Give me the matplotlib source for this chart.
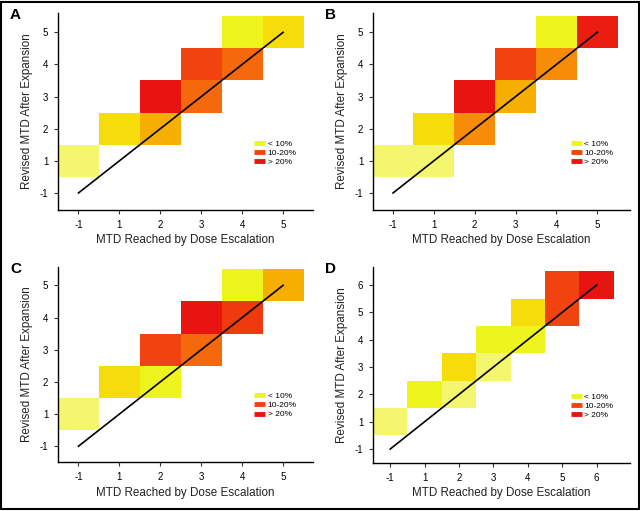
import numpy as np
import matplotlib
matplotlib.use("Agg")
import matplotlib.pyplot as plt
from matplotlib.colors import LinearSegmentedColormap, Normalize
from matplotlib.lines import Line2D
from matplotlib.patches import Rectangle

# ---------------- data ----------------
cats_5 = ["-1", "1", "2", "3", "4", "5"]
cats_6 = ["-1", "1", "2", "3", "4", "5", "6"]

# cells: (dose escalation category, revised category, value in % scale)
a_x = ["-1", "1", "2", "2", "3", "3", "4", "4", "5"]
a_y = ["1", "2", "2", "3", "3", "4", "4", "5", "5"]
a_v = [2, 8, 11, 25, 17, 20, 17, 5, 8]

b_x = ["-1", "1", "1", "2", "2", "3", "3", "4", "4", "5"]
b_y = ["1", "1", "2", "2", "3", "3", "4", "4", "5", "5"]
b_v = [2, 2, 8, 14, 25, 11, 20, 14, 5, 24]

c_x = ["-1", "1", "2", "2", "3", "3", "4", "4", "5"]
c_y = ["1", "2", "2", "3", "3", "4", "4", "5", "5"]
c_v = [2, 8, 5, 20, 17, 25, 21, 5, 11]

d_x = ["-1", "1", "2", "2", "3", "3", "4", "4", "5", "5", "6"]
d_y = ["1", "2", "2", "3", "3", "4", "4", "5", "5", "6", "6"]
d_v = [2, 5, 2, 8, 2, 5, 5, 8, 20, 20, 25]

legend_labels = ["< 10%", "10-20%", "> 20%"]
legend_values = [5, 20, 25]

xlabel = "MTD Reached by Dose Escalation"
ylabel = "Revised MTD After Expansion"

# ---------------- style ----------------
cmap = LinearSegmentedColormap.from_list(
    "risk",
    [(0.0, "#F4F66E"), (0.08, "#F4F66E"), (0.2, "#EEF51C"), (0.32, "#F6DC0A"),
     (0.44, "#F6AF00"), (0.56, "#F68C08"), (0.68, "#F5690C"), (0.8, "#F1430F"),
     (1.0, "#E81410")])
norm = Normalize(0, 25)

label_font = ["Liberation Sans Narrow", "Liberation Sans", "DejaVu Sans"]
tick_font = ["Liberation Sans", "DejaVu Sans"]

W, H = 640, 511
fig = plt.figure(figsize=(W / 100, H / 100), dpi=100)

panels = [
    ("A", cats_5, a_x, a_y, a_v, (58, 313, 13, 210), (-0.5, 5.73), (-0.53, 5.6), 27, 240),
    ("B", cats_5, b_x, b_y, b_v, (373, 630, 13, 210), (-0.49, 5.8), (-0.53, 5.6), 342, 240),
    ("C", cats_5, c_x, c_y, c_v, (58, 313, 267, 462), (-0.5, 5.73), (-0.49, 5.57), 27, 493),
    ("D", cats_6, d_x, d_y, d_v, (373, 630, 267, 463), (-0.5, 6.97), (-0.51, 6.66), 342, 493),
]

for letter, cats, xs, ys, vs, (l, r, t, b), xlim, ylim, ylab_x, xlab_y in panels:
    ax = fig.add_axes([l / W, 1 - b / H, (r - l) / W, (b - t) / H])
    n = len(cats)
    mat = np.full((n, n), np.nan)
    for xc, yc, v in zip(xs, ys, vs):
        mat[cats.index(yc), cats.index(xc)] = v
    edges = np.arange(n + 1) - 0.5
    ax.pcolormesh(edges, edges, np.ma.masked_invalid(mat), cmap=cmap, norm=norm,
                  edgecolors="none", antialiased=False)
    ax.plot([0, n - 1], [0, n - 1], color="black", lw=1.2)
    ax.set_xlim(*xlim)
    ax.set_ylim(*ylim)
    ax.set_xticks(range(n))
    ax.set_xticklabels(cats, fontfamily=tick_font, fontsize=7)
    ax.set_yticks(range(n))
    ax.set_yticklabels(cats, fontfamily=tick_font, fontsize=7)
    ax.tick_params(length=3, width=0.8, color="#333333", pad=4)
    for s in ["top", "right"]:
        ax.spines[s].set_visible(False)
    for s in ["left", "bottom"]:
        ax.spines[s].set_linewidth(1.0)
    ax.set_xlabel(xlabel, fontfamily=label_font, fontsize=8.4, color="#222222")
    ax.set_ylabel(ylabel, fontfamily=label_font, fontsize=8.4, color="#222222")
    ax.xaxis.label.set_va("center")
    ax.yaxis.label.set_va("center")
    ax.xaxis.set_label_coords(0.5, -(xlab_y - b) / (b - t))
    ax.yaxis.set_label_coords((ylab_x - l) / (r - l), 0.5)
    handles = [Line2D([0], [0], color=cmap(norm(v)), lw=3.5, solid_capstyle="butt")
               for v in legend_values]
    ax.legend(handles, legend_labels, loc="upper left", bbox_to_anchor=(0.74, 0.395),
              frameon=False, handlelength=1.3, handletextpad=0.3,
              labelspacing=0.15, prop={"family": tick_font, "size": 6})
    fig.text(10 / W + (l - 58) / W, 1 - 8 / H - (t - 13) / H, letter, fontsize=11,
             fontweight="bold", fontfamily=tick_font, va="top", ha="left")

fig.patches.append(Rectangle((0.002, 0.003), 0.996, 0.994, transform=fig.transFigure,
                             fill=False, edgecolor="black", lw=1.5))

fig.savefig("out.png", dpi=100)
